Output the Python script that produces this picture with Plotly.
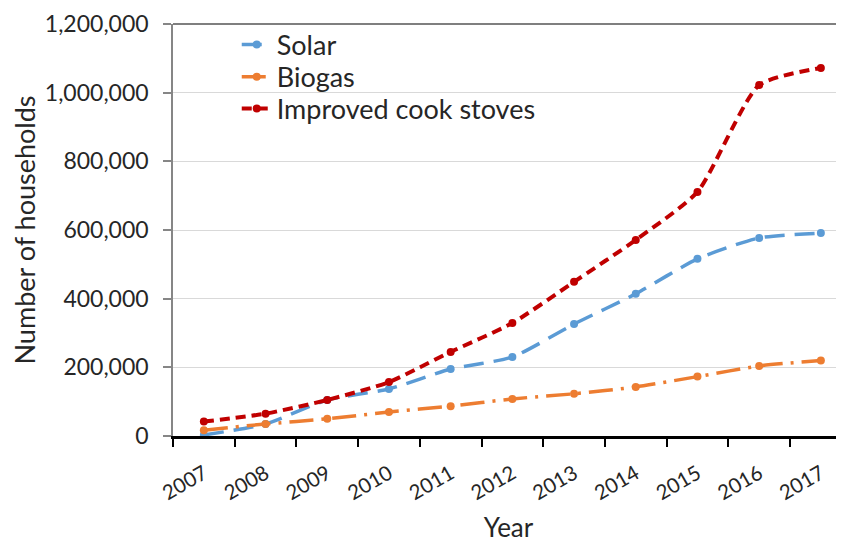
import plotly.graph_objects as go

years = ["2007", "2008", "2009", "2010", "2011", "2012", "2013", "2014", "2015", "2016", "2017"]
solar = [3000, 35000, 105000, 137000, 195000, 230000, 326000, 414000, 516000, 577000, 591000]
biogas = [17000, 35000, 50000, 70000, 87000, 108000, 123000, 143000, 173000, 204000, 220000]
stoves = [42000, 65000, 105000, 157000, 245000, 329000, 449000, 571000, 711000, 1022000, 1072000]

FONT = "Lato"
TXT = "#262626"

fig = go.Figure()
fig.add_trace(go.Scatter(x=years, y=solar, name="Solar", mode="lines+markers", legend="legend",
                         line=dict(color="#5B9BD5", width=3.5, dash="20px,10px", shape="spline", smoothing=0.6),
                         marker=dict(size=8, color="#5B9BD5")))
fig.add_trace(go.Scatter(x=years, y=biogas, name="Biogas", mode="lines+markers", legend="legend2",
                         line=dict(color="#ED7D31", width=3.5, dash="24px,8px,3px,8px", shape="spline", smoothing=0.6),
                         marker=dict(size=8, color="#ED7D31")))
fig.add_trace(go.Scatter(x=years, y=stoves, name="Improved cook stoves", mode="lines+markers", legend="legend3",
                         line=dict(color="#C00000", width=4, dash="10px,6px", shape="spline", smoothing=0.6),
                         marker=dict(size=8, color="#C00000")))

leg_common = dict(x=0.095, xanchor="left", yanchor="middle", bgcolor="rgba(0,0,0,0)",
                  font=dict(family=FONT, size=27, color=TXT))

fig.update_layout(
    width=836, height=535,
    margin=dict(l=165, r=0, t=16, b=107),
    paper_bgcolor="white", plot_bgcolor="white",
    font=dict(family=FONT, size=22, color=TXT),
    showlegend=True,
    legend=dict(y=0.949, **leg_common),
    legend2=dict(y=0.871, **leg_common),
    legend3=dict(y=0.794, **leg_common),
    xaxis=dict(type="category", range=[-0.5, 10.375], tickson="boundaries", automargin=False,
               ticks="outside", ticklen=8, tickwidth=2, tickcolor="black",
               showline=True, linecolor="black", linewidth=2.5, showgrid=False,
               tickangle=-30, tickfont=dict(family=FONT, size=20.5, color=TXT),
               ticklabelstandoff=15,
               title=dict(text="Year", font=dict(family=FONT, size=26, color=TXT), standoff=20)),
    yaxis=dict(range=[0, 1200000], dtick=200000, tickformat=",", automargin=False,
               ticks="outside", ticklen=8, tickwidth=1.5, tickcolor="#868686",
               showline=True, linecolor="#868686", linewidth=1.5,
               showgrid=True, gridcolor="#d9d9d9", gridwidth=1, zeroline=False,
               tickfont=dict(family=FONT, size=23, color=TXT), ticklabelstandoff=10,
               title=dict(text="Number of households", font=dict(family=FONT, size=27, color=TXT), standoff=10)),
    shapes=[dict(type="line", xref="paper", yref="paper", x0=0, x1=1, y0=1, y1=1,
                 line=dict(color="#7f7f7f", width=2))],
)

fig.write_html("out.html")
